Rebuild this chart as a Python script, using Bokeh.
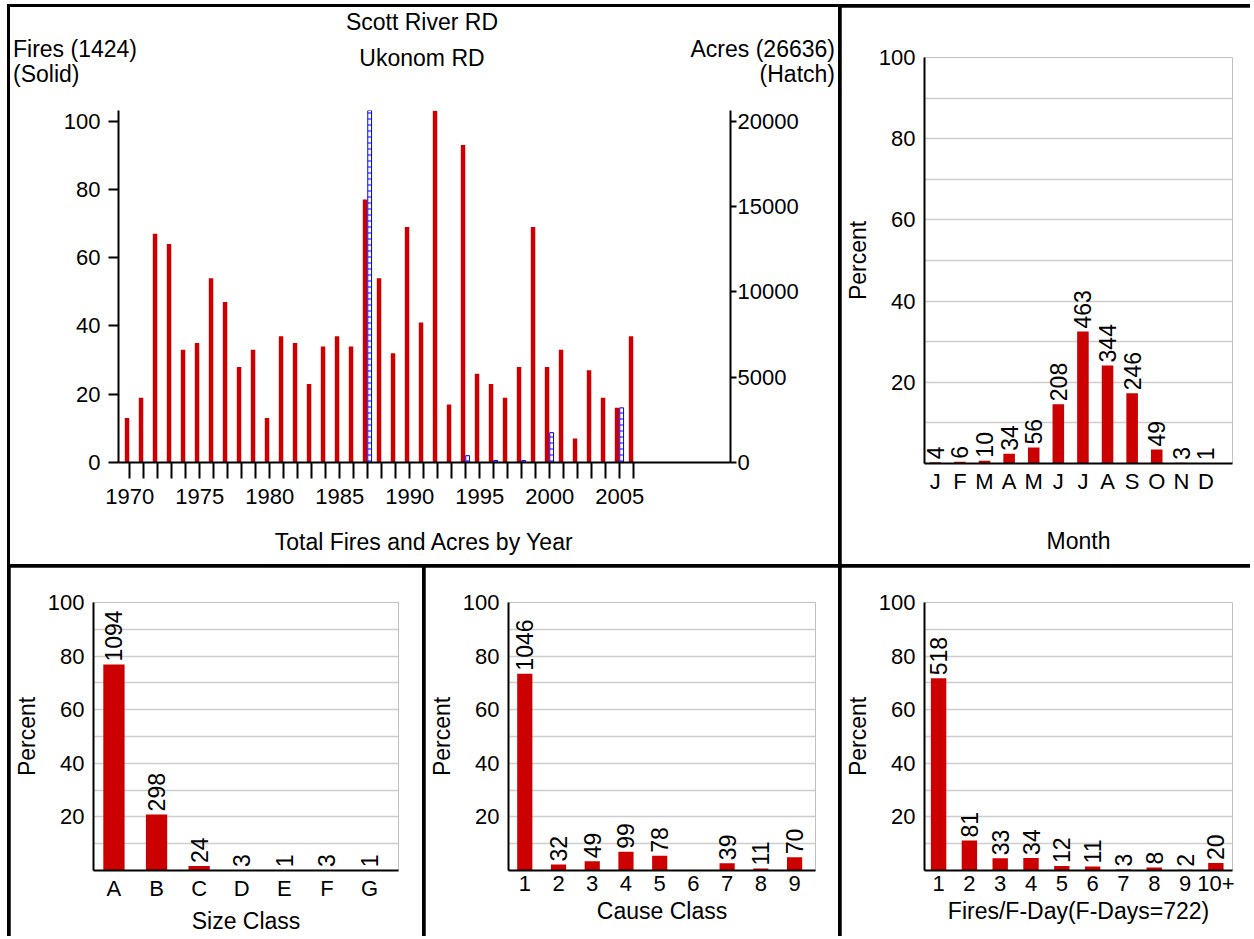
import math
from bokeh.plotting import figure
from bokeh.models import ColumnDataSource, Range1d, LinearAxis, FixedTicker, Spacer, Title, Div
from bokeh.layouts import row, column
from bokeh.transform import dodge
from bokeh.embed import file_html
from bokeh.resources import INLINE
from bokeh.core.properties import value

# ---------------- data ----------------
years = list(range(1970, 2007))
fires = [13, 19, 67, 64, 33, 35, 54, 47, 28, 33, 13, 37, 35, 23, 34, 37, 34, 77, 54, 32,
         69, 41, 103, 17, 93, 26, 23, 19, 28, 69, 28, 33, 7, 27, 19, 16, 37]
acres = [0, 0, 0, 0, 0, 0, 0, 0, 0, 0, 0, 0, 0, 0, 0, 0, 0, 20650, 0, 0,
         0, 0, 0, 0, 400, 0, 120, 0, 110, 0, 1750, 0, 0, 0, 0, 3200, 0]
fires_total = 1424
acres_total = 26636
year_tick_labels = ["1970", "1975", "1980", "1985", "1990", "1995", "2000", "2005"]

month_labels = ["J", "F", "M", "A", "M", "J", "J", "A", "S", "O", "N", "D"]
month_counts = [4, 6, 10, 34, 56, 208, 463, 344, 246, 49, 3, 1]

size_labels = ["A", "B", "C", "D", "E", "F", "G"]
size_counts = [1094, 298, 24, 3, 1, 3, 1]

cause_labels = ["1", "2", "3", "4", "5", "6", "7", "8", "9"]
cause_counts = [1046, 32, 49, 99, 78, 0, 39, 11, 70]

fday_labels = ["1", "2", "3", "4", "5", "6", "7", "8", "9", "10+"]
fday_counts = [518, 81, 33, 34, 12, 11, 3, 8, 2, 20]
fday_total = 722

pct_ticks = [20, 40, 60, 80, 100]
pct_grid = [10, 20, 30, 40, 50, 60, 70, 80, 90, 100]
fire_ticks = [0, 20, 40, 60, 80, 100]
acre_ticks = [0, 5000, 10000, 15000, 20000]

# ---------------- style ----------------
FONT = "Liberation Sans"
TICK = "22px"
TXT = "23px"
RED = "#CC0000"
BLUE = "#0000FF"
GRID = "#CDCDCD"


def style_axis(ax, size=TICK):
    ax.axis_line_color = "black"
    ax.axis_line_width = 2
    ax.major_label_text_font = FONT
    ax.major_label_text_font_size = size
    ax.major_label_text_color = "black"
    ax.axis_label_text_font = FONT
    ax.axis_label_text_font_size = TXT
    ax.axis_label_text_font_style = "normal"
    ax.axis_label_text_color = "black"
    ax.minor_tick_line_color = None


# ---------------- top-left header (free texts) ----------------
HW, HH = 828, 90


def span(text, css):
    return '<span style="position:absolute;white-space:nowrap;%s">%s</span>' % (css, text)


header_html = (
    '<div style="position:relative;width:%dpx;height:%dpx;background:white;overflow:hidden;'
    "font-family:'%s';font-size:%s;line-height:1;color:black;\">" % (HW, HH, FONT, TXT)
    + span("Scott River RD", "left:-2px;width:%dpx;text-align:center;top:4px" % HW)
    + span("Ukonom RD", "left:-2px;width:%dpx;text-align:center;top:40px" % HW)
    + span("Fires (%d)" % fires_total, "left:3px;top:31px")
    + span("(Solid)", "left:3px;top:56px")
    + span("Acres (%d)" % acres_total, "right:3px;top:31px")
    + span("(Hatch)", "right:3px;top:56px")
    + "</div>"
)
header = Div(text=header_html, width=HW, height=HH, margin=0,
             styles={"background-color": "white", "overflow": "hidden",
                     "padding": "0", "margin": "0"})

# ---------------- top-left: fires and acres by year ----------------
W1, H1 = 828, 467
MBL1, MBR1, MBT1, MBB1 = 108, 108, 13, 102
X0 = 1969.2
PX_PER_YEAR = 14.0
frame_w1 = W1 - MBL1 - MBR1
Y_TOP = 103.1

p1 = figure(width=W1, height=H1, x_range=Range1d(X0, X0 + frame_w1 / PX_PER_YEAR),
            y_range=Range1d(0, Y_TOP), output_backend="svg", toolbar_location=None,
            min_border_left=MBL1, min_border_right=MBR1, min_border_top=MBT1,
            min_border_bottom=MBB1)
p1.extra_y_ranges = {"acres": Range1d(0, Y_TOP * 200)}
p1.outline_line_color = None
p1.grid.visible = False

src_f = ColumnDataSource(dict(year=years, fires=fires))
p1.vbar(x=dodge("year", -0.19, range=p1.x_range), top="fires", width=0.32, source=src_f,
        fill_color=RED, line_color=None)

ay = [y for y, a in zip(years, acres) if a > 0]
aa = [a for a in acres if a > 0]
src_a = ColumnDataSource(dict(year=ay, acres=aa))
p1.vbar(x=dodge("year", 0.14, range=p1.x_range), top="acres", bottom=0, width=0.27,
        source=src_a, y_range_name="acres", fill_color="white", line_color=BLUE,
        line_width=1, hatch_pattern="horizontal_line", hatch_color=BLUE,
        hatch_scale=6, hatch_weight=1)

xa = p1.xaxis[0]
style_axis(xa)
xa.ticker = FixedTicker(ticks=years)
xa.major_label_overrides = {y: (str(y) if str(y) in year_tick_labels else "") for y in years}
xa.major_tick_out = 16
xa.major_tick_in = 0
xa.major_tick_line_width = 2
xa.major_tick_line_color = "black"
xa.major_label_standoff = 10
xa.axis_label = "Total Fires and Acres by Year"
xa.axis_label_standoff = 22

ya = p1.yaxis[0]
style_axis(ya)
ya.ticker = FixedTicker(ticks=fire_ticks)
ya.major_tick_out = 10
ya.major_tick_in = 0
ya.major_tick_line_width = 2
ya.major_tick_line_color = "black"
ya.major_label_standoff = 8

ra = LinearAxis(y_range_name="acres", ticker=FixedTicker(ticks=acre_ticks))
style_axis(ra)
ra.major_tick_out = 6
ra.major_tick_in = 0
ra.major_tick_line_width = 2
ra.major_tick_line_color = "black"
ra.major_label_standoff = 1
p1.add_layout(ra, "right")


# ---------------- percent charts ----------------
def pct_chart(width, height, mbl, mbr, mbt, mbb, xs, xe, labels, counts, total, bw,
              xlabel, xl_offset, use_axis_label):
    pos = list(range(1, len(labels) + 1))
    pct = [c * 100.0 / total for c in counts]
    txt = [str(c) if c > 0 else "" for c in counts]
    src = ColumnDataSource(dict(x=pos, pct=pct, txt=txt))
    p = figure(width=width, height=height, x_range=Range1d(xs, xe), y_range=Range1d(0, 100),
               output_backend="svg", toolbar_location=None,
               min_border_left=mbl, min_border_right=mbr, min_border_top=mbt,
               min_border_bottom=mbb)
    p.outline_line_color = None
    p.xgrid.visible = False
    p.ygrid.ticker = FixedTicker(ticks=pct_grid)
    p.ygrid.grid_line_color = GRID
    p.ygrid.grid_line_width = 1.5
    p.vbar(x="x", top="pct", width=bw, source=src, fill_color=RED, line_color=None)
    p.text(x="x", y="pct", text="txt", source=src, angle=math.pi / 2, text_align="left",
           text_baseline="middle", text_font=value(FONT), text_font_size=TXT,
           text_color="black", y_offset=-3)
    xax = p.xaxis[0]
    style_axis(xax)
    xax.ticker = FixedTicker(ticks=pos)
    xax.major_label_overrides = {i: l for i, l in zip(pos, labels)}
    xax.major_tick_line_color = None
    xax.major_tick_out = 0
    xax.major_tick_in = 0
    xax.major_label_standoff = 5
    yax = p.yaxis[0]
    style_axis(yax)
    yax.ticker = FixedTicker(ticks=pct_ticks)
    yax.major_tick_line_color = None
    yax.major_tick_out = 0
    yax.major_tick_in = 0
    yax.major_label_standoff = 9
    yax.axis_label = "Percent"
    yax.axis_label_standoff = 5
    if use_axis_label:
        xax.axis_label = xlabel
        xax.axis_label_standoff = 31
    else:
        p.add_layout(Title(text=xlabel, align="center", offset=xl_offset, standoff=5,
                           text_font=FONT, text_font_size=TXT, text_font_style="normal",
                           text_color="black"),
                     "below")
    return p


p2 = pct_chart(409, 557, 78, 18, 50, 101, 0.56, 13.08, month_labels, month_counts,
               fires_total, 0.47, "Month", 0, True)
p3 = pct_chart(412, 369, 75, 24, 35, 65, 0.52, 7.68, size_labels, size_counts,
               fires_total, 0.5, "Size Class", -26, False)
p4 = pct_chart(413, 369, 77, 23, 35, 65, 0.517, 9.62, cause_labels, cause_counts,
               fires_total, 0.45, "Cause Class", -28, False)
p5 = pct_chart(409, 369, 78, 18, 35, 65, 0.543, 10.54, fday_labels, fday_counts,
               fday_total, 0.5, "Fires/F-Day(F-Days=%d)" % fday_total, -29, False)

top_left = column(header, p1, styles={"background-color": "white"})
top = row(Spacer(width=0, height=557), top_left, p2, spacing=3)
bottom = row(Spacer(width=0, height=369), p3, p4, p5, spacing=3)
inner = column(Spacer(width=1243, height=0), top, bottom, spacing=3,
               styles={"background-color": "black"})
root = column(Spacer(width=1250, height=4), row(Spacer(width=7, height=932), inner))

open("out.html", "w").write(file_html(root, INLINE))
